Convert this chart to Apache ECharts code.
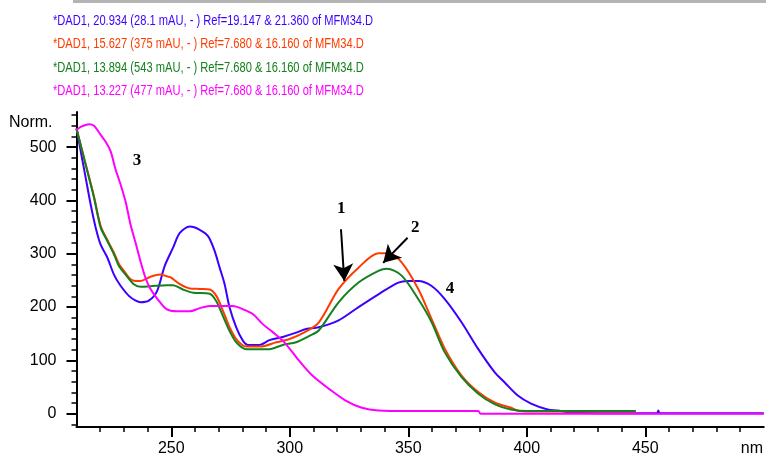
<!DOCTYPE html>
<html style="height: 100%">
<head>
<meta charset="utf-8">
<script src="https://cdn.jsdelivr.net/npm/echarts@6/dist/echarts.min.js"></script>
</head>
<body style="height: 100%; margin: 0; background: #fff">
<div id="container" style="width: 766px; height: 457px"></div>
<script type="text/javascript">
// header lines (one per spectrum)
var titles = [
  '*DAD1, 20.934 (28.1 mAU, - ) Ref=19.147 & 21.360 of MFM34.D',
  '*DAD1, 15.627 (375 mAU, - ) Ref=7.680 & 16.160 of MFM34.D',
  '*DAD1, 13.894 (543 mAU, - ) Ref=7.680 & 16.160 of MFM34.D',
  '*DAD1, 13.227 (477 mAU, - ) Ref=7.680 & 16.160 of MFM34.D'
];
var colors = ['#3c00ff', '#ff3c00', '#14801e', '#ff00ff'];

// spectrum 1 (blue)
var wl1 = [210, 211.8, 213.9, 216, 218.1, 220.2, 223, 225.8, 228.6, 232.1, 235, 237, 240.5, 244, 247.2, 250.7, 253.6, 257.8, 262, 265.5, 268.3, 270.4, 272.5, 274.6, 277.4, 280.2, 282.3, 287.2, 291.4, 297, 302.7, 306.9, 312.2, 320.6, 329, 337.4, 345.8, 350, 354.2, 359.7, 365.4, 372.4, 379.4, 386.4, 390.6, 396.2, 401.8, 408.8, 413, 418, 430, 450, 455, 455.5, 456, 460, 500];
var ab1 = [535, 492, 442, 392, 349, 317, 293, 261, 240, 221, 212, 209, 212, 230, 277, 311, 339, 351, 345, 333, 305, 274, 243, 199, 162, 137, 129, 129, 138, 144, 152, 159, 162, 175, 200, 224, 246, 249, 249, 240, 215, 172, 122, 78, 59, 34, 19, 8, 6, 2, 1, 1, 1, 6, 1, 1, 1];

// spectrum 2 (orange)
var wl2 = [210, 213.2, 215.3, 217.4, 220.2, 223, 225.8, 228, 230, 232.8, 235, 237, 241.2, 245.4, 248, 249.6, 253.6, 257.8, 262, 266.2, 269, 271.8, 274.6, 277.4, 281.6, 287.6, 294.3, 299.9, 305.5, 312.2, 320.6, 329, 337.4, 341.6, 347.2, 354.2, 359.8, 365.4, 372.4, 379.4, 386.4, 393.4, 396, 400, 446];
var ab2 = [535, 479, 444, 407, 352, 326, 302, 280, 268, 252, 249, 249, 257, 261, 258, 256, 243, 235, 234, 233, 221, 193, 162, 140, 126, 126, 134, 140, 151, 171, 234, 274, 301, 301, 284, 234, 178, 122, 72, 41, 21, 11, 6, 4, 4];

// spectrum 3 (green)
var wl3 = [210, 213.2, 215.3, 217.4, 220.2, 223, 225.8, 227.9, 230.7, 234.2, 237, 241.2, 248.2, 250.7, 254.9, 259.2, 266.2, 269, 271.8, 274.6, 277.4, 281.6, 291.4, 297, 302.7, 308.3, 312.2, 320.6, 329, 337.4, 340.9, 347.2, 354.2, 359.8, 365.4, 372.4, 379.4, 386.4, 393.4, 400, 420, 446];
var ab3 = [535, 479, 442, 405, 349, 324, 299, 277, 261, 243, 238, 239, 241, 241, 233, 227, 225, 211, 183, 155, 134, 121, 121, 129, 134, 146, 156, 209, 246, 268, 272, 259, 215, 172, 115, 69, 38, 18, 8, 5, 5, 5];

// spectrum 4 (magenta)
var wl4 = [210, 211.8, 215.3, 217.4, 220.2, 222.3, 224.4, 226.5, 228.6, 230.7, 232.8, 234.9, 237, 239.1, 241, 244.2, 248, 252.2, 257.8, 262, 266.2, 276, 280.2, 284.4, 288.6, 292.8, 297, 301.2, 303.8, 309.4, 316.4, 323.4, 330.4, 337.4, 350, 379.5, 380.5, 500];
var ab4 = [532, 538, 543, 540, 523, 510, 492, 458, 430, 398, 355, 321, 286, 255, 236, 215, 196, 192, 192, 198, 202, 202, 196, 187, 168, 153, 137, 115, 100, 72, 47, 25, 11, 6, 5, 5, 0, 0];

// axis ticks
var xLabels = [250, 300, 350, 400, 450];
var yLabels = [0, 100, 200, 300, 400, 500];
var xMinor = [], yMinor = [];
for (var t = 220; t <= 490; t += 10) { if (t % 50 !== 0) xMinor.push(t); }
for (var u = -20; u <= 560; u += 20) { if (u % 100 !== 0) yMinor.push(u); }

// annotations
var noteText = ['1', '2', '3', '4'];
var notePos = [[321.7, 385], [352.9, 349], [235.5, 474], [367.6, 235]];
var arrows = [
  [[321.6, 346], [323.0, 249]],
  [[349.7, 330], [339.4, 283]]
];

function pairs(xs, ys) {
  var res = [];
  for (var i = 0; i < xs.length; i++) res.push([xs[i], ys[i]]);
  return res;
}

var myChart = echarts.init(document.getElementById('container'));

var xMin = 210, xMax = 500, yMin = -25, yMax = 566;
var baseFont = 'Liberation Sans, Arial, sans-serif';

// header: narrow sans, done by squeezing Liberation Sans horizontally
var graphics = [{
  type: 'rect',
  shape: { x: 73, y: 0, width: 693, height: 3 },
  style: { fill: '#b4b4b4' }
}];
var headerY = [21, 44.5, 68, 91];
for (var i = 0; i < titles.length; i++) {
  graphics.push({
    type: 'text',
    x: 53,
    y: headerY[i],
    scaleX: 0.795,
    style: {
      text: titles[i],
      fill: colors[i],
      font: '14px "Liberation Sans", Arial, sans-serif',
      verticalAlign: 'middle',
      align: 'left'
    }
  });
}

var dataSets = [pairs(wl1, ab1), pairs(wl2, ab2), pairs(wl3, ab3), pairs(wl4, ab4)];
var seriesList = [];
for (var k = 0; k < dataSets.length; k++) {
  seriesList.push({
    type: 'line',
    data: dataSets[k],
    showSymbol: false,
    smooth: 0.3,
    lineStyle: { color: colors[k], width: 2 },
    z: 2 + k
  });
}

var markPts = [];
for (var m = 0; m < noteText.length; m++) {
  markPts.push({
    coord: notePos[m],
    symbolSize: 0,
    label: {
      show: true,
      formatter: noteText[m],
      color: '#000',
      fontSize: 17,
      fontWeight: 'bold',
      fontFamily: 'Liberation Serif, Times New Roman, serif'
    }
  });
}
var markLines = [];
for (var a = 0; a < arrows.length; a++) {
  markLines.push([{ coord: arrows[a][0] }, { coord: arrows[a][1] }]);
}
seriesList.push({
  type: 'line',
  data: [],
  silent: true,
  z: 10,
  markPoint: { symbol: 'circle', data: markPts },
  markLine: {
    symbol: ['none', 'arrow'],
    symbolSize: [15, 17],
    label: { show: false },
    lineStyle: { color: '#000', width: 2, type: 'solid' },
    data: markLines
  }
});

var option = {
  animation: false,
  backgroundColor: '#fff',
  graphic: graphics,
  grid: { left: 76.5, right: 0, top: 112, bottom: 28.7 },
  xAxis: [{
    type: 'value',
    position: 'bottom',
    min: xMin, max: xMax,
    name: 'nm',
    nameLocation: 'end',
    nameGap: -23,
    nameTextStyle: { color: '#000', fontSize: 16, fontFamily: baseFont, align: 'left', verticalAlign: 'top', padding: [14, 0, 0, 0] },
    splitLine: { show: false },
    axisLine: { onZero: false, lineStyle: { color: '#000', width: 2 } },
    axisTick: { customValues: xLabels, length: 10, lineStyle: { color: '#000', width: 2 } },
    axisLabel: { customValues: xLabels, margin: 14, color: '#000', fontSize: 16, fontFamily: baseFont }
  }, {
    type: 'value',
    position: 'bottom',
    min: xMin, max: xMax,
    splitLine: { show: false },
    axisLine: { show: false, onZero: false },
    axisTick: { customValues: xMinor, length: 5, lineStyle: { color: '#000', width: 1.5 } },
    axisLabel: { show: false }
  }],
  yAxis: [{
    type: 'value',
    position: 'left',
    min: yMin, max: yMax,
    name: 'Norm.',
    nameLocation: 'end',
    nameGap: -11,
    nameTextStyle: { color: '#000', fontSize: 16, fontFamily: baseFont, align: 'right', verticalAlign: 'middle', padding: [0, 24, 0, 0] },
    splitLine: { show: false },
    axisLine: { onZero: false, lineStyle: { color: '#000', width: 2 } },
    axisTick: { customValues: yLabels, length: 10, lineStyle: { color: '#000', width: 2 } },
    axisLabel: { customValues: yLabels, margin: 20, color: '#000', fontSize: 16, fontFamily: baseFont }
  }, {
    type: 'value',
    position: 'left',
    min: yMin, max: yMax,
    splitLine: { show: false },
    axisLine: { show: false, onZero: false },
    axisTick: { customValues: yMinor, length: 5, lineStyle: { color: '#000', width: 1.5 } },
    axisLabel: { show: false }
  }],
  series: seriesList
};
myChart.setOption(option);
</script>
</body>
</html>
